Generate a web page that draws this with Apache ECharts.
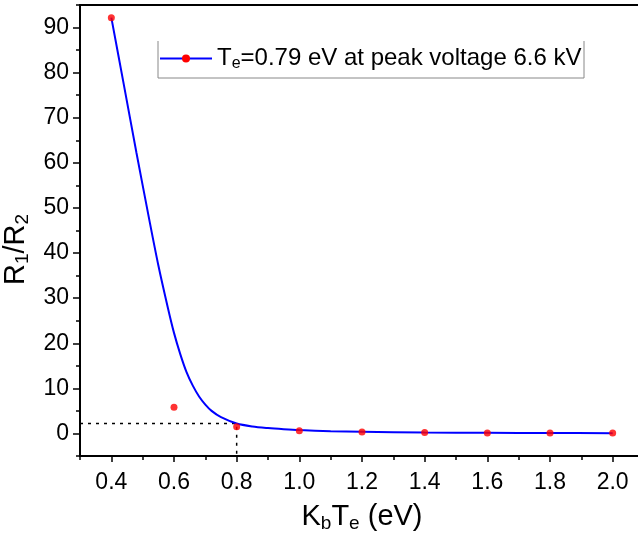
<!DOCTYPE html>
<html>
<head>
<meta charset="utf-8">
<script src="https://cdn.jsdelivr.net/npm/echarts@6/dist/echarts.min.js"></script>
<style>
    html, body { margin: 0; padding: 0; background: #fff; }
    #chart { width: 638px; height: 534px; }
</style>
</head>
<body>
<div id="chart"></div>
<script>
// measured points (red dots)
var pointX = [0.4, 0.6, 0.8, 1.0, 1.2, 1.4, 1.6, 1.8, 2.0];
var pointY = [92.2, 5.8, 1.5, 0.6, 0.3, 0.2, 0.1, 0.1, 0.1];

// fitted curve
var fitX = [0.40, 0.44, 0.48, 0.52, 0.55, 0.58, 0.60, 0.62, 0.64, 0.66, 0.68, 0.70, 0.72, 0.75, 0.80, 0.85, 0.90, 0.95, 1.00, 1.10, 1.20, 1.40, 1.60, 1.80, 2.00];
var fitY = [92.2, 77.3, 62.3, 47.8, 37.3, 28.0, 22.3, 17.6, 13.6, 10.6, 8.2, 6.4, 5.0, 3.6, 2.2, 1.55, 1.2, 0.95, 0.75, 0.5, 0.38, 0.22, 0.14, 0.1, 0.07];

// dotted guide at Te = 0.8
var guideX = [0.3, 0.8, 0.8];
var guideY = [2.2, 2.2, -5];

// ticks
var xTicks = [0.4, 0.6, 0.8, 1.0, 1.2, 1.4, 1.6, 1.8, 2.0];
var xMinorTicks = [0.3, 0.5, 0.7, 0.9, 1.1, 1.3, 1.5, 1.7, 1.9, 2.1];
var yTicks = [0, 10, 20, 30, 40, 50, 60, 70, 80, 90];
var yMinorTicks = [-5, 5, 15, 25, 35, 45, 55, 65, 75, 85, 95];

function pairs(xs, ys) {
    return xs.map(function (x, i) { return [x, ys[i]]; });
}

var font = 'Liberation Sans, Arial, sans-serif';
var black = '#000';

// rich styles for sub-scripted names
var nameRich = {
    n: { fontSize: 29, fontFamily: font, color: black, lineHeight: 36 },
    s: { fontSize: 19, fontFamily: font, color: black, lineHeight: 36, padding: [14, 0, 0, 0] }
};

var chart = echarts.init(document.getElementById('chart'));
chart.setOption({
    backgroundColor: '#fff',
    animation: false,
    textStyle: { fontFamily: font, color: black },
    grid: {
        left: 80, right: -6, top: 5, bottom: 78,
        containLabel: false,
        outerBoundsMode: 'none',
        show: true, borderColor: black, borderWidth: 2
    },
    legend: {
        left: 159, top: 45,
        itemWidth: 52, itemHeight: 10,
        padding: 0,
        data: [{ name: 'fit' }],
        formatter: function () {
            return '{n|T}{s|e}{n|=0.79 eV at peak voltage 6.6 kV}';
        },
        textStyle: {
            rich: {
                n: { fontSize: 24, fontFamily: font, color: black, lineHeight: 28 },
                s: { fontSize: 16, fontFamily: font, color: black, lineHeight: 28, padding: [11, 0, 0, 0] }
            }
        }
    },
    graphic: [{
        type: 'polyline',
        shape: { points: [[158, 41], [158, 78], [584, 78], [584, 41]] },
        style: { stroke: '#888', lineWidth: 1, fill: null }
    }],
    xAxis: [
        {
            type: 'value',
            min: 0.3, max: 2.1,
            name: '{n|K}{s|b}{n|T}{s|e}{n| (eV)}',
            nameLocation: 'middle',
            nameGap: 43,
            nameTextStyle: { rich: nameRich },
            axisLine: { show: true, onZero: false, lineStyle: { color: black, width: 2 } },
            axisTick: { show: true, length: 6, customValues: xTicks, lineStyle: { color: black, width: 1.5 } },
            splitLine: { show: false },
            axisLabel: {
                fontSize: 23, color: black, margin: 15,
                customValues: xTicks,
                formatter: function (v) { return v.toFixed(1); }
            }
        },
        {
            // minor ticks only
            type: 'value',
            position: 'bottom',
            min: 0.3, max: 2.1,
            axisLine: { show: false, onZero: false },
            axisTick: { show: true, length: 4, customValues: xMinorTicks, lineStyle: { color: black, width: 1.5 } },
            axisLabel: { show: false },
            splitLine: { show: false }
        }
    ],
    yAxis: [
        {
            type: 'value',
            min: -5, max: 95,
            name: '{n|R}{s|1}{n|/R}{s|2}',
            nameLocation: 'middle',
            nameGap: 44,
            nameTextStyle: { padding: [0, 38, 0, 0], rich: nameRich },
            axisLine: { show: true, onZero: false, lineStyle: { color: black, width: 2 } },
            axisTick: { show: true, length: 7, customValues: yTicks, lineStyle: { color: black, width: 1.5 } },
            splitLine: { show: false },
            axisLabel: {
                fontSize: 23, color: black, margin: 11,
                customValues: yTicks
            }
        },
        {
            // minor ticks only
            type: 'value',
            position: 'left',
            min: -5, max: 95,
            axisLine: { show: false, onZero: false },
            axisTick: { show: true, length: 4, customValues: yMinorTicks, lineStyle: { color: black, width: 1.5 } },
            axisLabel: { show: false },
            splitLine: { show: false }
        }
    ],
    series: [
        {
            name: 'fit',
            type: 'line',
            data: pairs(fitX, fitY),
            smooth: 0.3,
            showSymbol: false,
            symbol: 'circle',
            symbolSize: 7,
            itemStyle: { color: '#ff0000' },
            lineStyle: { color: '#0000ff', width: 2 },
            z: 3
        },
        {
            name: 'points',
            type: 'scatter',
            data: pairs(pointX, pointY),
            symbol: 'circle',
            symbolSize: 7,
            itemStyle: { color: '#ff0000' },
            z: 4
        },
        {
            name: 'guide',
            type: 'line',
            data: pairs(guideX, guideY),
            showSymbol: false,
            lineStyle: { color: black, width: 1.5, type: [3, 5] },
            z: 2
        }
    ]
});
</script>
</body>
</html>
